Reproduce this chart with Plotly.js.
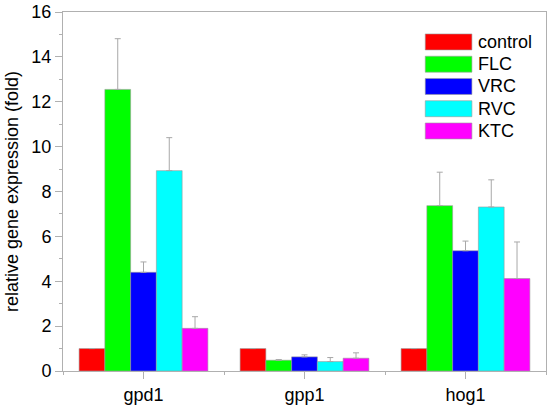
<!DOCTYPE html>
<html>
<head>
<meta charset="utf-8">
<script src="https://cdn.plot.ly/plotly-3.0.1.min.js"></script>
<style>html,body{margin:0;padding:0;background:#fff;}#chart{width:550px;height:406px;}</style>
</head>
<body>
<div id="chart"></div>
<script>
// Data
const categories = ["gpd1", "gpp1", "hog1"];
const seriesNames = ["control", "FLC", "VRC", "RVC", "KTC"];
const control = [1.0, 1.0, 1.0];
const FLC = [12.55, 0.48, 7.37];
const VRC = [4.40, 0.63, 5.36];
const RVC = [8.93, 0.42, 7.31];
const KTC = [1.90, 0.57, 4.12];
const controlErr = [0, 0, 0];
const FLCErr = [2.26, 0.03, 1.49];
const VRCErr = [0.46, 0.09, 0.43];
const RVCErr = [1.47, 0.18, 1.21];
const KTCErr = [0.52, 0.24, 1.63];

const colors = ["#ff0000", "#00ff00", "#0000ff", "#00ffff", "#ff00ff"];
const values = [control, FLC, VRC, RVC, KTC];
const errors = [controlErr, FLCErr, VRCErr, RVCErr, KTCErr];
const xIdx = categories.map((c, i) => i);

const font = {family: "Liberation Sans, Arial, sans-serif", size: 18, color: "#000"};

const traces = seriesNames.map((name, k) => ({
  type: "bar",
  name: name,
  x: xIdx,
  y: values[k],
  marker: {color: colors[k], line: {color: "#9a9a9a", width: 0.6}},
  error_y: {
    type: "data", symmetric: false,
    array: errors[k], arrayminus: errors[k].map(() => 0),
    visible: true, color: "#a8a8a8", thickness: 1, width: 3
  },
  showlegend: false
}));

// Legend built with shapes + annotations (wide swatches like the reference)
const shapes = [];
const annotations = [];
const lx0 = 0.750, lx1 = 0.8466, ltext = 0.857;
const ly0 = 0.9166, lstep = 0.0620, lh = 0.0445;
seriesNames.forEach((name, k) => {
  const yc = ly0 - k * lstep;
  shapes.push({type: "rect", xref: "paper", yref: "paper",
    x0: lx0, x1: lx1, y0: yc - lh / 2, y1: yc + lh / 2,
    fillcolor: colors[k], line: {color: "#9a9a9a", width: 0.6}});
  annotations.push({xref: "paper", yref: "paper", x: ltext, y: yc,
    xanchor: "left", yanchor: "middle", text: name, showarrow: false, font: font,
    borderpad: 0});
});

const axisCommon = {
  showline: true, linecolor: "#b0b0b0", linewidth: 1, mirror: true,
  ticks: "outside", ticklen: 7, tickcolor: "#b0b0b0", tickwidth: 1,
  showgrid: false, zeroline: false, tickfont: font
};

const layout = {
  width: 550, height: 406,
  margin: {l: 63.3, r: 4.3, t: 12, b: 34.5},
  paper_bgcolor: "#fff", plot_bgcolor: "#fff",
  font: font,
  barmode: "group", bargap: 0.2, bargroupgap: 0,
  xaxis: Object.assign({}, axisCommon, {
    type: "linear", range: [-0.5, 2.5],
    tickmode: "array", tickvals: xIdx, ticktext: categories,
    minor: {ticks: "outside", ticklen: 3, tickcolor: "#b0b0b0", tick0: -0.5, dtick: 1, showgrid: false}
  }),
  yaxis: Object.assign({}, axisCommon, {
    range: [0, 16], dtick: 2, tick0: 0,
    title: {text: "relative gene expression (fold)", font: font, standoff: 8},
    minor: {ticks: "outside", ticklen: 3, tickcolor: "#b0b0b0", dtick: 1, showgrid: false}
  }),
  shapes: shapes,
  annotations: annotations
};

Plotly.newPlot("chart", traces, layout, {displayModeBar: false, staticPlot: true});
</script>
</body>
</html>
